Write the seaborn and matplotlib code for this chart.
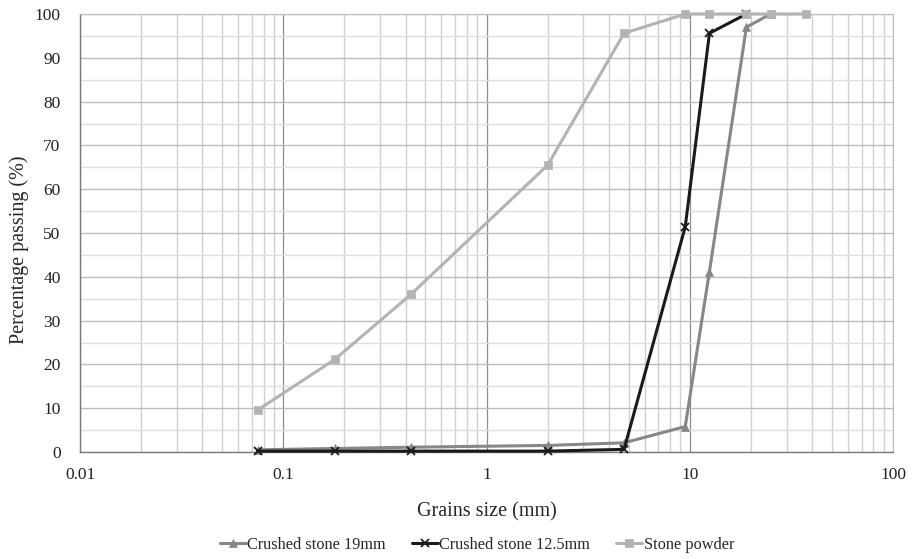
import matplotlib
matplotlib.use("Agg")
import matplotlib.pyplot as plt
import seaborn as sns
import pandas as pd
from matplotlib.ticker import LogLocator, FixedLocator, FuncFormatter, MultipleLocator

sieve_19 = [0.075, 0.18, 0.425, 2.0, 4.75, 9.5, 12.5, 19, 25]
pass_19 = [0.5, 0.8, 1.1, 1.5, 2.1, 5.8, 41.2, 97.0, 100]

sieve_125 = [0.075, 0.18, 0.425, 2.0, 4.75, 9.5, 12.5, 19]
pass_125 = [0.2, 0.2, 0.2, 0.2, 0.6, 51.4, 95.6, 100]

sieve_sp = [0.075, 0.18, 0.425, 2.0, 4.75, 9.5, 12.5, 19, 25, 37.5]
pass_sp = [9.6, 21.2, 36.0, 65.5, 95.6, 100, 100, 100, 100, 100]

series_names = ["Crushed stone 19mm", "Crushed stone 12.5mm", "Stone powder"]
x_ticks = [0.01, 0.1, 1, 10, 100]
x_tick_labels = ["0.01", "0.1", "1", "10", "100"]

sns.set_style("white")
plt.rcParams['font.family'] = ['Liberation Serif', 'DejaVu Serif']

fig = plt.figure(figsize=(9.15, 5.59), dpi=100)
ax = fig.add_axes([80/915, 1-452/559, (893-80)/915, (452-14)/559])

styles = [
    (sieve_19, pass_19, "#878787", "^", 6),
    (sieve_125, pass_125, "#1a1a1a", "x", 6),
    (sieve_sp, pass_sp, "#b3b3b3", "s", 6),
]
for name, (xs, ys, col, mk, ms) in zip(series_names, styles):
    df = pd.DataFrame({"size": xs, "pass": ys})
    sns.lineplot(data=df, x="size", y="pass", ax=ax, color=col, marker=mk,
                 markersize=ms, markeredgecolor=col, markeredgewidth=1.3 if mk == "x" else 0.5,
                 linewidth=2.2, label=name, zorder=3, clip_on=False)

ax.set_xscale("log")
ax.set_xlim(0.01, 100)
ax.set_ylim(0, 100)
ax.xaxis.set_major_locator(FixedLocator(x_ticks))
ax.xaxis.set_major_formatter(FuncFormatter(lambda v, p: x_tick_labels[x_ticks.index(v)] if v in x_ticks else ""))
ax.xaxis.set_minor_locator(LogLocator(base=10, subs=range(2, 10), numticks=20))
ax.xaxis.set_minor_formatter(FuncFormatter(lambda v, p: ""))
ax.yaxis.set_major_locator(MultipleLocator(10))
ax.yaxis.set_minor_locator(MultipleLocator(5))

ax.grid(True, which="major", axis="x", color="#8c8c8c", linewidth=0.9, zorder=0)
ax.grid(True, which="minor", axis="x", color="#cfcfcf", linewidth=1.0, zorder=0)
ax.grid(True, which="major", axis="y", color="#bdbdbd", linewidth=1.0, zorder=0)
ax.grid(True, which="minor", axis="y", color="#dedede", linewidth=1.0, zorder=0)
ax.set_axisbelow(True)

for s in ["top", "right"]:
    ax.spines[s].set_color("#bdbdbd")
for s in ["left", "bottom"]:
    ax.spines[s].set_color("#7a7a7a")
    ax.spines[s].set_linewidth(1.0)

ax.tick_params(axis="both", which="both", length=0, labelsize=12.5, colors="#222222")
ax.tick_params(axis="y", pad=14)
ax.tick_params(axis="x", pad=10.5)
ax.set_xlabel("Grains size (mm)", fontsize=14.5, labelpad=14)
ax.set_ylabel("Percentage passing (%)", fontsize=14.5)
ax.yaxis.set_label_coords((29 - 80) / 813, 0.461)

ax.legend(loc="center", ncol=3, frameon=False,
          fontsize=11.7, handlelength=1.6, handletextpad=0.1, columnspacing=1.6)
leg = ax.get_legend()
leg.set_bbox_to_anchor((477/915, (559-545)/559), transform=fig.transFigure)

fig.savefig("out.png", dpi=100)
